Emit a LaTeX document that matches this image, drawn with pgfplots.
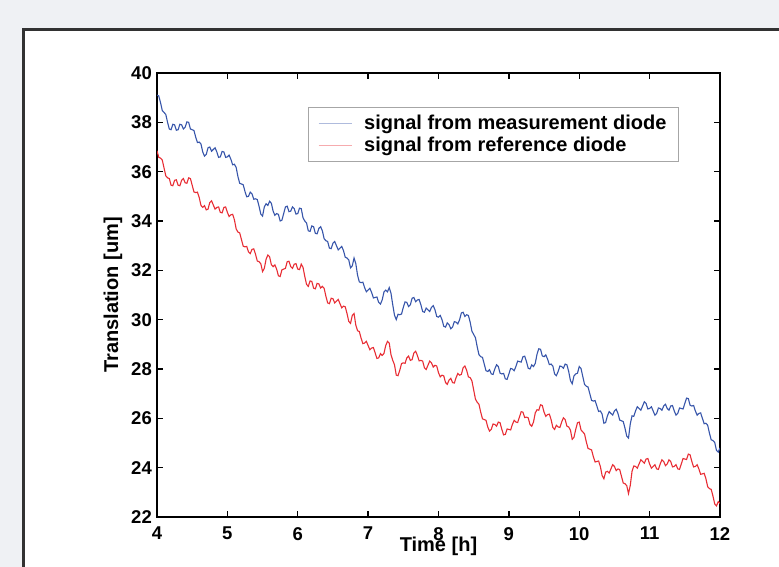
\documentclass[border=0pt]{standalone}
\usepackage{pgfplots}
\usepackage{pgfplotstable}
\pgfplotsset{compat=1.18}
\usepackage{fontspec}
\setmainfont{Liberation Sans}
\definecolor{bgc}{RGB}{239,241,244}
\definecolor{myblue}{RGB}{55,85,170}
\definecolor{myred}{RGB}{232,45,52}
\definecolor{framec}{RGB}{50,50,50}
\pgfplotstableread{
x y
4.000 39.10
4.025 39.07
4.050 38.80
4.075 38.48
4.100 38.40
4.125 38.32
4.150 38.00
4.175 37.73
4.200 37.70
4.225 37.92
4.250 37.90
4.275 37.68
4.300 37.70
4.325 37.92
4.350 37.90
4.375 37.73
4.400 37.80
4.425 38.02
4.450 38.00
4.475 37.73
4.500 37.70
4.525 37.67
4.550 37.40
4.575 37.18
4.600 37.20
4.625 37.12
4.650 36.80
4.675 36.63
4.700 36.70
4.725 36.97
4.750 37.00
4.775 36.83
4.800 36.90
4.825 36.97
4.850 36.80
4.875 36.58
4.900 36.60
4.925 36.82
4.950 36.80
4.975 36.58
5.000 36.60
5.025 36.67
5.050 36.50
5.075 36.28
5.100 36.30
5.125 36.17
5.150 35.80
5.175 35.53
5.200 35.50
5.225 35.47
5.250 35.20
5.275 34.98
5.300 35.00
5.325 35.17
5.350 35.10
5.375 34.88
5.400 34.90
5.425 34.87
5.450 34.60
5.475 34.28
5.500 34.20
5.525 34.57
5.550 34.70
5.575 34.63
5.600 34.80
5.625 34.72
5.650 34.40
5.675 34.23
5.700 34.30
5.725 34.27
5.750 34.00
5.775 34.03
5.800 34.30
5.825 34.57
5.850 34.60
5.875 34.38
5.900 34.40
5.925 34.57
5.950 34.50
5.975 34.28
6.000 34.30
6.025 34.52
6.050 34.50
6.075 34.13
6.100 34.00
6.125 33.92
6.150 33.60
6.175 33.58
6.200 33.80
6.225 33.77
6.250 33.50
6.275 33.48
6.300 33.70
6.325 33.77
6.350 33.60
6.375 33.28
6.400 33.20
6.425 33.17
6.450 32.90
6.475 32.88
6.500 33.10
6.525 33.17
6.550 33.00
6.575 32.83
6.600 32.90
6.625 32.97
6.650 32.80
6.675 32.53
6.700 32.50
6.725 32.42
6.750 32.10
6.775 32.18
6.800 32.50
6.825 32.27
6.850 31.80
6.875 31.53
6.900 31.50
6.925 31.52
6.950 31.30
6.975 31.13
7.000 31.20
7.025 31.27
7.050 31.10
7.075 30.88
7.100 30.90
7.125 30.92
7.150 30.70
7.175 30.63
7.200 30.80
7.225 31.12
7.250 31.20
7.275 31.13
7.300 31.30
7.325 31.07
7.350 30.60
7.375 30.18
7.400 30.00
7.425 30.22
7.450 30.20
7.475 30.23
7.500 30.50
7.525 30.72
7.550 30.70
7.575 30.53
7.600 30.60
7.625 30.87
7.650 30.90
7.675 30.73
7.700 30.80
7.725 30.82
7.750 30.60
7.775 30.33
7.800 30.30
7.825 30.47
7.850 30.40
7.875 30.33
7.900 30.50
7.925 30.57
7.950 30.40
7.975 30.13
8.000 30.10
8.025 30.17
8.050 30.00
8.075 29.73
8.100 29.70
8.125 29.87
8.150 29.80
8.175 29.63
8.200 29.70
8.225 29.92
8.250 29.90
8.275 29.83
8.300 30.00
8.325 30.27
8.350 30.30
8.375 30.13
8.400 30.20
8.425 30.17
8.450 29.90
8.475 29.53
8.500 29.40
8.525 29.27
8.550 28.90
8.575 28.58
8.600 28.50
8.625 28.47
8.650 28.20
8.675 27.93
8.700 27.90
8.725 27.97
8.750 27.80
8.775 27.78
8.800 28.00
8.825 28.17
8.850 28.10
8.875 27.83
8.900 27.80
8.925 27.82
8.950 27.60
8.975 27.58
9.000 27.80
9.025 28.02
9.050 28.00
9.075 27.93
9.100 28.10
9.125 28.32
9.150 28.30
9.175 28.28
9.200 28.50
9.225 28.52
9.250 28.30
9.275 28.03
9.300 28.00
9.325 28.17
9.350 28.10
9.375 28.23
9.400 28.60
9.425 28.82
9.450 28.80
9.475 28.53
9.500 28.50
9.525 28.57
9.550 28.40
9.575 28.18
9.600 28.20
9.625 28.12
9.650 27.80
9.675 27.73
9.700 27.90
9.725 28.12
9.750 28.10
9.775 28.03
9.800 28.20
9.825 28.17
9.850 27.90
9.875 27.53
9.900 27.40
9.925 27.72
9.950 27.80
9.975 27.83
10.000 28.10
10.025 28.02
10.050 27.70
10.075 27.38
10.100 27.30
10.125 27.27
10.150 27.00
10.175 26.73
10.200 26.70
10.225 26.72
10.250 26.50
10.275 26.28
10.300 26.30
10.325 26.17
10.350 25.80
10.375 25.83
10.400 26.10
10.425 26.27
10.450 26.20
10.475 26.13
10.500 26.30
10.525 26.37
10.550 26.20
10.575 25.93
10.600 25.90
10.625 25.87
10.650 25.60
10.675 25.28
10.700 25.20
10.725 25.77
10.750 26.10
10.775 26.08
10.800 26.30
10.825 26.47
10.850 26.40
10.875 26.33
10.900 26.50
10.925 26.67
10.950 26.60
10.975 26.38
11.000 26.40
11.025 26.47
11.050 26.30
11.075 26.13
11.100 26.20
11.125 26.42
11.150 26.40
11.175 26.33
11.200 26.50
11.225 26.57
11.250 26.40
11.275 26.33
11.300 26.50
11.325 26.52
11.350 26.30
11.375 26.13
11.400 26.20
11.425 26.42
11.450 26.40
11.475 26.38
11.500 26.60
11.525 26.82
11.550 26.80
11.575 26.53
11.600 26.50
11.625 26.52
11.650 26.30
11.675 26.13
11.700 26.20
11.725 26.22
11.750 26.00
11.775 25.78
11.800 25.80
11.825 25.72
11.850 25.40
11.875 25.13
11.900 25.10
11.925 25.02
11.950 24.70
11.975 24.63
12.000 24.80
}\bluedata
\pgfplotstableread{
x y
4.000 36.85
4.025 36.58
4.050 36.55
4.075 36.47
4.100 36.15
4.125 35.83
4.150 35.75
4.175 35.72
4.200 35.45
4.225 35.43
4.250 35.65
4.275 35.67
4.300 35.45
4.325 35.43
4.350 35.65
4.375 35.72
4.400 35.55
4.425 35.53
4.450 35.75
4.475 35.72
4.500 35.45
4.525 35.18
4.550 35.15
4.575 35.17
4.600 34.95
4.625 34.63
4.650 34.55
4.675 34.62
4.700 34.45
4.725 34.48
4.750 34.75
4.775 34.82
4.800 34.65
4.825 34.48
4.850 34.55
4.875 34.57
4.900 34.35
4.925 34.33
4.950 34.55
4.975 34.57
5.000 34.35
5.025 34.18
5.050 34.25
5.075 34.27
5.100 34.05
5.125 33.68
5.150 33.55
5.175 33.52
5.200 33.25
5.225 32.98
5.250 32.95
5.275 32.97
5.300 32.75
5.325 32.68
5.350 32.85
5.375 32.87
5.400 32.65
5.425 32.38
5.450 32.35
5.475 32.27
5.500 31.95
5.525 32.08
5.550 32.45
5.575 32.62
5.600 32.55
5.625 32.23
5.650 32.15
5.675 32.22
5.700 32.05
5.725 31.78
5.750 31.75
5.775 32.02
5.800 32.05
5.825 32.08
5.850 32.35
5.875 32.37
5.900 32.15
5.925 32.08
5.950 32.25
5.975 32.27
6.000 32.05
6.025 32.03
6.050 32.25
6.075 32.12
6.100 31.75
6.125 31.43
6.150 31.35
6.175 31.57
6.200 31.55
6.225 31.28
6.250 31.25
6.275 31.47
6.300 31.45
6.325 31.28
6.350 31.35
6.375 31.27
6.400 30.95
6.425 30.68
6.450 30.65
6.475 30.87
6.500 30.85
6.525 30.68
6.550 30.75
6.575 30.82
6.600 30.65
6.625 30.48
6.650 30.55
6.675 30.52
6.700 30.25
6.725 29.93
6.750 29.85
6.775 30.17
6.800 30.25
6.825 29.78
6.850 29.55
6.875 29.52
6.900 29.25
6.925 29.03
6.950 29.05
6.975 29.12
7.000 28.95
7.025 28.78
7.050 28.85
7.075 28.87
7.100 28.65
7.125 28.43
7.150 28.45
7.175 28.62
7.200 28.55
7.225 28.63
7.250 28.95
7.275 29.12
7.300 29.05
7.325 28.58
7.350 28.35
7.375 28.17
7.400 27.75
7.425 27.73
7.450 27.95
7.475 28.22
7.500 28.25
7.525 28.23
7.550 28.45
7.575 28.52
7.600 28.35
7.625 28.38
7.650 28.65
7.675 28.72
7.700 28.55
7.725 28.33
7.750 28.35
7.775 28.32
7.800 28.05
7.825 27.98
7.850 28.15
7.875 28.32
7.900 28.25
7.925 28.08
7.950 28.15
7.975 28.12
8.000 27.85
8.025 27.68
8.050 27.75
8.075 27.72
8.100 27.45
8.125 27.38
8.150 27.55
8.175 27.62
8.200 27.45
8.225 27.43
8.250 27.65
8.275 27.82
8.300 27.75
8.325 27.78
8.350 28.05
8.375 28.12
8.400 27.95
8.425 27.68
8.450 27.65
8.475 27.52
8.500 27.15
8.525 26.78
8.550 26.65
8.575 26.57
8.600 26.25
8.625 25.98
8.650 25.95
8.675 25.92
8.700 25.65
8.725 25.48
8.750 25.55
8.775 25.77
8.800 25.75
8.825 25.68
8.850 25.85
8.875 25.82
8.900 25.55
8.925 25.33
8.950 25.35
8.975 25.57
9.000 25.55
9.025 25.53
9.050 25.75
9.075 25.92
9.100 25.85
9.125 25.83
9.150 26.05
9.175 26.27
9.200 26.25
9.225 26.03
9.250 26.05
9.275 26.02
9.300 25.75
9.325 25.68
9.350 25.85
9.375 26.22
9.400 26.35
9.425 26.33
9.450 26.55
9.475 26.52
9.500 26.25
9.525 26.08
9.550 26.15
9.575 26.17
9.600 25.95
9.625 25.63
9.650 25.55
9.675 25.72
9.700 25.65
9.725 25.63
9.750 25.85
9.775 26.02
9.800 25.95
9.825 25.68
9.850 25.65
9.875 25.52
9.900 25.15
9.925 25.23
9.950 25.55
9.975 25.82
10.000 25.85
10.025 25.53
10.050 25.45
10.075 25.37
10.100 25.05
10.125 24.78
10.150 24.75
10.175 24.72
10.200 24.45
10.225 24.23
10.250 24.25
10.275 24.27
10.300 24.05
10.325 23.68
10.350 23.55
10.375 23.82
10.400 23.85
10.425 23.78
10.450 23.95
10.475 24.12
10.500 24.05
10.525 23.88
10.550 23.95
10.575 23.92
10.600 23.65
10.625 23.38
10.650 23.35
10.675 23.27
10.700 22.95
10.725 23.28
10.750 23.85
10.775 24.07
10.800 24.05
10.825 23.98
10.850 24.15
10.875 24.32
10.900 24.25
10.925 24.18
10.950 24.35
10.975 24.37
11.000 24.15
11.025 23.98
11.050 24.05
11.075 24.12
11.100 23.95
11.125 23.93
11.150 24.15
11.175 24.32
11.200 24.25
11.225 24.08
11.250 24.15
11.275 24.32
11.300 24.25
11.325 24.03
11.350 24.05
11.375 24.12
11.400 23.95
11.425 23.93
11.450 24.15
11.475 24.37
11.500 24.35
11.525 24.33
11.550 24.55
11.575 24.52
11.600 24.25
11.625 24.03
11.650 24.05
11.675 24.12
11.700 23.95
11.725 23.73
11.750 23.75
11.775 23.77
11.800 23.55
11.825 23.23
11.850 23.15
11.875 23.12
11.900 22.85
11.925 22.53
11.950 22.45
11.975 22.62
12.000 22.55
}\reddata
\begin{document}
\begin{tikzpicture}
\path[use as bounding box, fill=bgc] (-157bp,-50bp) rectangle (622bp,517bp);
\draw[framec, line width=2.5bp, fill=white] (-133.5bp,-90bp) rectangle (700bp,487.5bp);
\begin{axis}[
  at={(0bp,0bp)}, anchor=south west,
  scale only axis, width=563bp, height=444bp,
  xmin=4, xmax=12, ymin=22, ymax=40,
  xtick={4,5,...,12}, ytick={22,24,...,40},
  tick align=inside, major tick length=6bp,
  axis line style={line width=1.6bp, black},
  every tick/.style={black, line width=1.3bp},
  /pgf/number format/assume math mode=true,
  tick label style={font=\fontsize{18.5bp}{20bp}\selectfont\bfseries},
  yticklabel style={anchor=east, inner sep=0pt, xshift=-5bp},
  xticklabel style={anchor=north, inner sep=0pt, yshift=-10bp},
  xlabel={Time [h]}, ylabel={Translation [um]},
  label style={font=\fontsize{20bp}{22bp}\selectfont\bfseries},
  xlabel style={at={(axis description cs:0.5,-0.0788)}, anchor=base, inner sep=0pt},
  ylabel style={at={(axis description cs:-0.0782,0.5)}, anchor=center, inner sep=0pt},
  legend style={at={(axis description cs:0.2682,0.9234)}, anchor=north west,
    draw=gray!70, line width=0.6bp, fill=white,
    font=\fontsize{20bp}{22bp}\selectfont\bfseries,
    inner xsep=10bp, inner ysep=5bp, nodes={inner xsep=1.5bp, inner ysep=3bp}},
  legend cell align=left,
]
\addplot[myblue, line width=1.1bp, no marks,
  legend image code/.code={\draw[color=myblue!40, line width=0.8bp] (0bp,0bp) -- (33bp,0bp); \path[draw=none, fill=none] (0bp,0bp) rectangle (44bp,0.1bp);}]
  table[x=x, y=y] {\bluedata};
\addlegendentry{signal from measurement diode}
\addplot[myred, line width=1.1bp, no marks,
  legend image code/.code={\draw[color=myred!40, line width=0.8bp] (0bp,0bp) -- (33bp,0bp); \path[draw=none, fill=none] (0bp,0bp) rectangle (44bp,0.1bp);}]
  table[x=x, y=y] {\reddata};
\addlegendentry{signal from reference diode}
\end{axis}
\end{tikzpicture}
\end{document}
